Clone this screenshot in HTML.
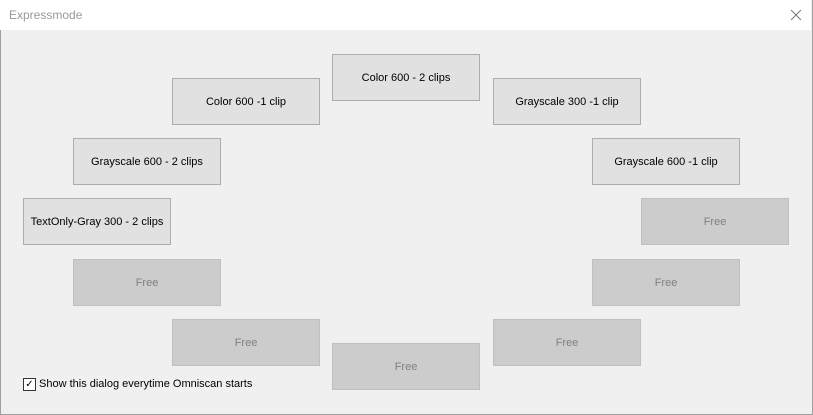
<!DOCTYPE html>
<html><head><style>
body{margin:0;width:813px;height:415px;overflow:hidden;font-family:"Liberation Sans",sans-serif;}
.win{position:absolute;left:0;top:0;width:811px;height:414px;border:1px solid #a0a0a0;border-top:none;background:#f0f0f0;}
.title{position:absolute;left:0;top:0;width:811px;height:30px;background:#fff;}
.title span{position:absolute;left:9px;top:8px;font-size:12px;color:#999;}
.x{position:absolute;left:790px;top:9px;}
.b{position:absolute;width:146px;height:45px;border:1px solid #adadad;background:#e1e1e1;font-size:11px;color:#000;display:flex;align-items:center;justify-content:center;box-sizing:content-box;}
.f{background:#cccccc;border-color:#bfbfbf;color:#808080;}
.cb{position:absolute;left:23px;top:378px;width:11px;height:11px;border:1px solid #333;background:#fff;font-size:10px;line-height:11px;text-align:center;}
.cl{position:absolute;left:39px;top:378px;font-size:11px;}
</style></head><body>
<div class="win"></div>
<div class="title"><span>Expressmode</span>
<svg class="x" width="12" height="12"><path d="M1 1L11 11M11 1L1 11" stroke="#777" stroke-width="1"/></svg></div>
<div class="b" style="left:332px;top:54px">Color 600 - 2 clips</div>
<div class="b" style="left:172px;top:78px">Color 600 -1 clip</div>
<div class="b" style="left:493px;top:78px">Grayscale 300 -1 clip</div>
<div class="b" style="left:73px;top:138px">Grayscale 600 - 2 clips</div>
<div class="b" style="left:592px;top:138px">Grayscale 600 -1 clip</div>
<div class="b" style="left:23px;top:198px">TextOnly-Gray 300 - 2 clips</div>
<div class="b f" style="left:641px;top:198px">Free</div>
<div class="b f" style="left:73px;top:259px">Free</div>
<div class="b f" style="left:592px;top:259px">Free</div>
<div class="b f" style="left:172px;top:319px">Free</div>
<div class="b f" style="left:493px;top:319px">Free</div>
<div class="b f" style="left:332px;top:343px">Free</div>
<div class="cb">✓</div>
<div class="cl">Show this dialog everytime Omniscan starts</div>
</body></html>
